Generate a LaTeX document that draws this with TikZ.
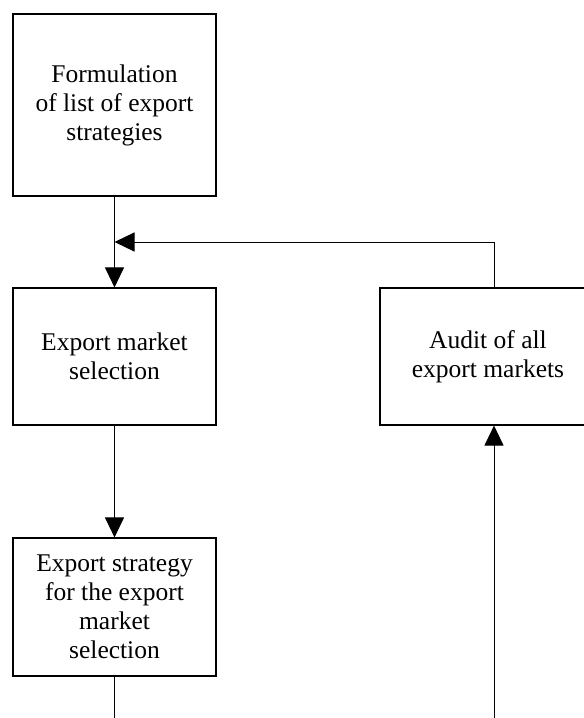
\documentclass[tikz,border=0pt]{standalone}
\usepackage{fontspec}
\setmainfont{Liberation Serif}
\usetikzlibrary{arrows.meta}
\begin{document}
\begin{tikzpicture}[x=1pt,y=-1pt,
  box/.style={draw=black,line width=1.1pt,align=center,inner sep=0pt,
    font=\fontsize{25.5}{29}\selectfont},
  conn/.style={line width=1pt},
  arr/.style={conn,-{Triangle[length=20pt,width=19pt]}}]
\useasboundingbox (0,0) rectangle (584,718);
\clip (0,0) rectangle (584,718);
\node[box,minimum width=203pt,minimum height=182pt] (a) at (114.5,105) {Formulation\\of list of export\\strategies};
\node[box,minimum width=203pt,minimum height=137pt] (b) at (114.5,356.5) {Export market\\selection};
\node[box,minimum width=203pt,minimum height=138pt] (c) at (114.5,607) {Export strategy\\for the export\\market\\selection};
\node[box,minimum width=216pt,minimum height=137pt] (d) at (488,356.5) {Audit of all\\export markets};
\coordinate (j) at (114.5,242);
\coordinate (r) at (494,242);
\coordinate (rb) at (494,718);
\coordinate (lb) at (114.5,718);
\draw[arr] (a.south) -- (b.north);
\draw[arr] (rb |- d.north) -- (r) -- (j);
\draw[arr] (b.south) -- (c.north);
\draw[conn] (c.south) -- (lb);
\draw[arr] (rb) -- (rb |- d.south);
\end{tikzpicture}
\end{document}
